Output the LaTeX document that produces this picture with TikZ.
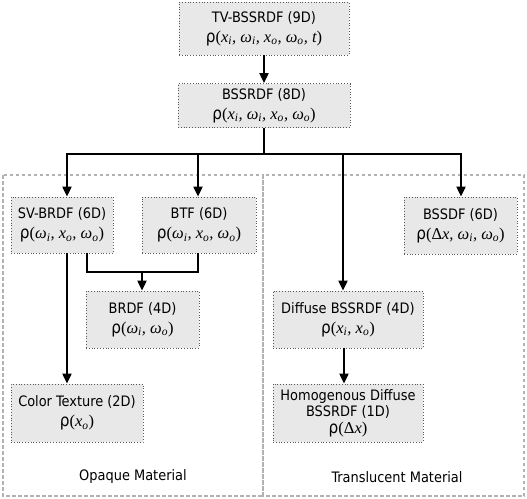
\documentclass[tikz,border=0pt]{standalone}
\usepackage{fontspec}
\setmainfont{DejaVu Sans Condensed}
\newfontfamily\serif{Liberation Serif}
\usetikzlibrary{arrows.meta}
\newcommand\vi[1]{{\serif\itshape #1}}
\newcommand\sbx[1]{\textsubscript{#1}}
\newcommand\rr[1]{{\fontsize{17}{20}\selectfont ρ}{\serif\fontsize{16.5}{20}\selectfont(#1)}}
\tikzset{
  box/.style={draw=gray!70!black, dotted, line width=0.8pt, fill=gray!18, align=center, inner sep=0pt,
    font=\fontsize{14.4}{20}\selectfont},
  arr/.style={line width=2pt, -{Triangle[length=10pt,width=9pt]}},
  ln/.style={line width=2pt},
  region/.style={draw=gray!60, line width=1.8pt, dash pattern=on 3.5pt off 2.5pt},
  lab/.style={font=\fontsize{14.4}{16}\selectfont}
}
\begin{document}
\begin{tikzpicture}[x=1pt,y=-1pt]
\useasboundingbox (0,0) rectangle (527,498);
% regions
\draw[region] (3,175) rectangle (263,496);
\draw[region] (263,175) rectangle (524,496);
% boxes
\node[box, minimum width=170, minimum height=53] (tv) at (264,28.5)
  {TV-BSSRDF (9D)\\ \rr{\vi{x\sbx{i}, ω\sbx{i}, x\sbx{o}, ω\sbx{o}, t}}};
\node[box, minimum width=172, minimum height=44] (bss) at (264,105.5)
  {BSSRDF (8D)\\ \rr{\vi{x\sbx{i}, ω\sbx{i}, x\sbx{o}, ω\sbx{o}}}};
\node[box, minimum width=102, minimum height=56] (sv) at (62,225)
  {SV-BRDF (6D)\\ \rr{\vi{ω\sbx{i}, x\sbx{o}, ω\sbx{o}}}};
\node[box, minimum width=114, minimum height=56] (btf) at (199,225)
  {BTF (6D)\\ \rr{\vi{ω\sbx{i}, x\sbx{o}, ω\sbx{o}}}};
\node[box, minimum width=113, minimum height=57] (bssdf) at (460.5,225.5)
  {BSSDF (6D)\\ \rr{{\serif Δ}\vi{x, ω\sbx{i}, ω\sbx{o}}}};
\node[box, minimum width=113, minimum height=57] (brdf) at (142.5,319.5)
  {BRDF (4D)\\ \rr{\vi{ω\sbx{i}, ω\sbx{o}}}};
\node[box, minimum width=132, minimum height=58] (ct) at (77,413)
  {Color Texture (2D)\\ \rr{\vi{x\sbx{o}}}};
\node[box, minimum width=150, minimum height=57] (dif) at (348,319.5)
  {Diffuse BSSRDF (4D)\\ \rr{\vi{x\sbx{i}, x\sbx{o}}}};
\node[box, minimum width=150, minimum height=58, font=\fontsize{14.4}{16.5}\selectfont] (hom) at (348,413)
  {Homogenous Diffuse\\ BSSRDF (1D)\\ \rr{{\serif Δ}\vi{x}}};
% labels
\node[lab] (lo) at (133,477) {Opaque Material};
\node[lab] (lt) at (397,477) {Translucent Material};
% connectors
\draw[arr] (tv.south) -- (bss.north);
\coordinate (bus) at (264,154);
\coordinate (b1) at (67,154);
\coordinate (b2) at (198,154);
\coordinate (b3) at (343,154);
\coordinate (b4) at (461,154);
\draw[ln] (bss.south) -- (bus);
\draw[ln] ([xshift=-1pt]b1) -- ([xshift=1pt]b4);
\draw[arr] (b1) -- (b1 |- sv.north);
\draw[arr] (b2) -- (b2 |- btf.north);
\draw[arr] (b3) -- (b3 |- dif.north);
\draw[arr] (b4) -- (b4 |- bssdf.north);
\coordinate (j1) at (87,272);
\coordinate (j2) at (198,272);
\coordinate (j3) at (142,272);
\draw[ln] (j1 |- sv.south) -- (j1) -- (j2) -- (j2 |- btf.south);
\draw[arr] (j3) -- (j3 |- brdf.north);
\coordinate (c1) at (67,300);
\draw[arr] (c1 |- sv.south) -- (c1 |- ct.north);
\coordinate (d1) at (344,360);
\draw[arr] (d1 |- dif.south) -- (d1 |- hom.north);
\end{tikzpicture}
\end{document}
